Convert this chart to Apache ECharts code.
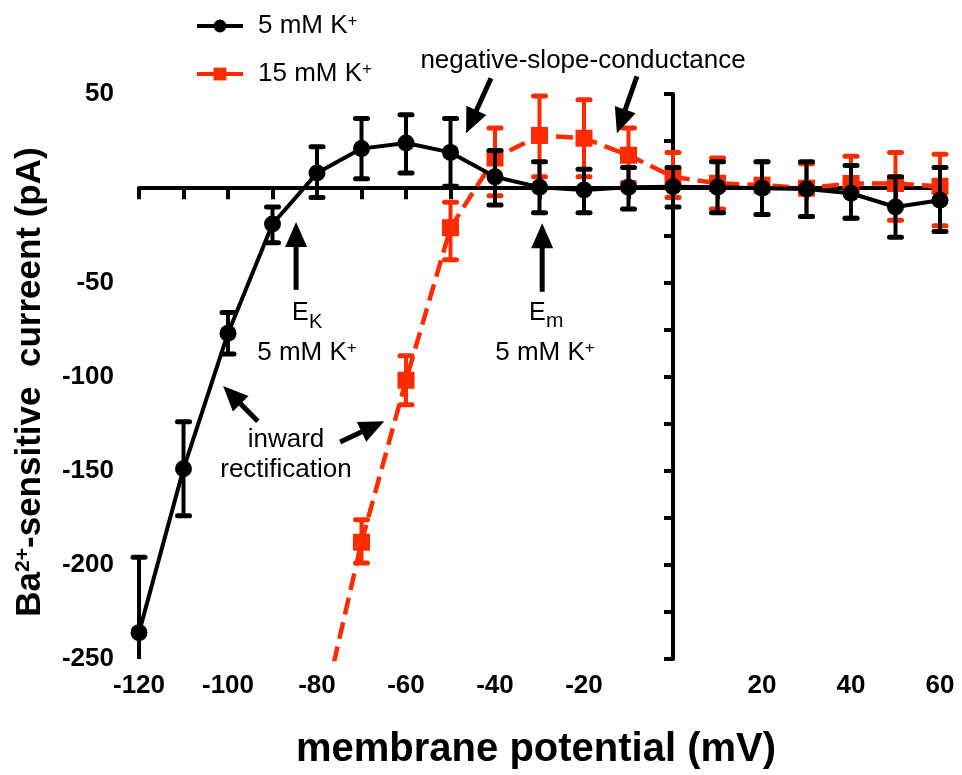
<!DOCTYPE html>
<html><head><meta charset="utf-8">
<script src="https://cdn.jsdelivr.net/npm/echarts@6/dist/echarts.min.js"></script>
<style>html,body{margin:0;padding:0;background:#fff}#c{width:962px;height:775px}</style>
</head><body><div id="c"></div>
<script>
// ---- data ----
const potentials5 = [-120,-110,-100,-90,-80,-70,-60,-50,-40,-30,-20,-10,0,10,20,30,40,50,60];
const current5    = [-236,-149,-77,-19,8,21,24,19,6,0.5,-1,0.5,0.7,0.5,0,-0.5,-2.7,-10,-6.4];
const upper5      = [-196,-124,-66,-10,22,37,39,37,20,14,10,11,11,14,14,14,12,6,11];
const lower5      = [-262,-174,-88,-29,-5,5,8,1,-9,-13,-13,-11,-10,-13,-14,-15,-16,-26,-23];
const potentials15 = [-80,-70,-60,-50,-40,-30,-20,-10,0,10,20,30,40,50,60];
const current15    = [-291,-188,-102,-21,16,28,26.5,17.5,6,2.6,1.6,0,2.5,2.5,1];
const upper15      = [null,-176,-89,-7.5,32,49,47,32,19,16,14,13,17,19,18];
const lower15      = [null,-199,-115,-38,-4,6,6,3,-5,-11,-14,-15,-16,-17,-20];
const seriesNames = ['5 mM K+', '15 mM K+'];
const xTickLabels = [-120,-100,-80,-60,-40,-20,20,40,60];
const yTickLabels = [50,-50,-100,-150,-200,-250];
// annotation arrows: [tail, tip] in data coordinates
const arrowList = [
  [[-40.9, 58.4], [-46.5, 29.2]],
  [[-8.1, 59.4], [-12.6, 29.2]],
  [[-84.7, -54], [-84.7, -18]],
  [[-29.4, -55], [-29.4, -18.6]],
  [[-93.3, -123.7], [-101.1, -105.1]],
  [[-74.8, -134.8], [-64.9, -123.7]]
];

const BLACK = '#000000', RED = '#ff2a00';
const FF = '"Liberation Sans", Arial, Helvetica, sans-serif';

function zip(xs, ys) { return xs.map((x, i) => [x, ys[i]]); }
function errData(xs, lo, hi) {
  const out = [];
  xs.forEach((x, i) => { if (lo[i] != null && hi[i] != null) out.push([x, lo[i], hi[i]]); });
  return out;
}
function errorBars(color, capHalf) {
  return function (params, api) {
    const x = api.value(0), lo = api.value(1), hi = api.value(2);
    const cs = params.coordSys;
    const top = cs.y, bottom = cs.y + cs.height;
    const pH = api.coord([x, hi]), pL = api.coord([x, lo]);
    const yH = Math.max(pH[1], top), yL = Math.min(pL[1], bottom);
    const ch = [{type: 'line', shape: {x1: pH[0], y1: yH, x2: pH[0], y2: yL}, style: {stroke: color, lineWidth: 4}}];
    if (pH[1] >= top - 0.5) ch.push({type: 'line', shape: {x1: pH[0] - capHalf, y1: pH[1], x2: pH[0] + capHalf, y2: pH[1]}, style: {stroke: color, lineWidth: 5, lineCap: 'round'}});
    if (pL[1] <= bottom + 0.5) ch.push({type: 'line', shape: {x1: pL[0] - capHalf, y1: pL[1], x2: pL[0] + capHalf, y2: pL[1]}, style: {stroke: color, lineWidth: 5, lineCap: 'round'}});
    return {type: 'group', children: ch};
  };
}

const chart = echarts.init(document.getElementById('c'), null, {renderer: 'canvas'});
const option = {
  animation: false,
  backgroundColor: '#fff',
  grid: {left: 139, right: 22, top: 94, bottom: 116, containLabel: false, outerBoundsMode: 'none'},
  legend: {
    orient: 'vertical', left: 190, top: 8, itemWidth: 46, itemHeight: 16, itemGap: 22,
    data: seriesNames,
    lineStyle: {type: 'solid', width: 4},
    formatter: n => n.replace('K+', 'K{sup|+}'),
    textStyle: {fontSize: 26, fontFamily: FF, color: '#000', padding: [0, 0, 0, 10],
      rich: {sup: {fontSize: 17, fontFamily: FF, color: '#000', verticalAlign: 'top'}}}
  },
  xAxis: [
    {type: 'value', min: -120, max: 60, interval: 10,
     axisLine: {show: true, onZero: true, onZeroAxisIndex: 0, lineStyle: {color: BLACK, width: 4}},
     axisTick: {show: true, length: 11, lineStyle: {color: BLACK, width: 4}},
     axisLabel: {show: false}, splitLine: {show: false}},
    {type: 'value', min: -120, max: 60, interval: 20, position: 'bottom',
     axisLine: {show: false, onZero: false}, axisTick: {show: false}, splitLine: {show: false},
     axisLabel: {show: true, margin: 14, color: '#000', fontSize: 26, fontWeight: 'bold', fontFamily: FF,
       formatter: v => xTickLabels.indexOf(v) >= 0 ? String(v) : ''}}
  ],
  yAxis: [
    {type: 'value', min: -250, max: 50, interval: 25,
     axisLine: {show: true, onZero: true, onZeroAxisIndex: 0, lineStyle: {color: BLACK, width: 4}},
     axisTick: {show: true, length: 9, lineStyle: {color: BLACK, width: 4}},
     axisLabel: {show: false}, splitLine: {show: false}},
    {type: 'value', min: -250, max: 50, interval: 50, position: 'left',
     axisLine: {show: false, onZero: false}, axisTick: {show: false}, splitLine: {show: false},
     axisLabel: {show: true, margin: 25, color: '#000', fontSize: 26, fontWeight: 'bold', fontFamily: FF,
       formatter: v => yTickLabels.indexOf(v) >= 0 ? String(v) : ''}}
  ],
  series: [
    {type: 'custom', name: 'err15', xAxisIndex: 0, yAxisIndex: 0, renderItem: errorBars(RED, 6),
     data: errData(potentials15, lower15, upper15), encode: {x: 0, y: [1, 2]}, silent: true, z: 2},
    {type: 'line', name: seriesNames[1], xAxisIndex: 0, yAxisIndex: 0, data: zip(potentials15, current15),
     symbol: 'rect', symbolSize: 17, clip: true, z: 3,
     lineStyle: {color: RED, width: 4.5, type: [17, 8]}, itemStyle: {color: RED}},
    {type: 'custom', name: 'err5', xAxisIndex: 0, yAxisIndex: 0, renderItem: errorBars(BLACK, 6),
     data: errData(potentials5, lower5, upper5), encode: {x: 0, y: [1, 2]}, silent: true, z: 4},
    {type: 'line', name: seriesNames[0], xAxisIndex: 0, yAxisIndex: 0, data: zip(potentials5, current5),
     symbol: 'circle', symbolSize: 17, clip: true, z: 5,
     lineStyle: {color: BLACK, width: 4}, itemStyle: {color: BLACK}}
  ]
};
chart.setOption(option);

// ---- annotations ----
const toPx = p => chart.convertToPixel({seriesIndex: 1}, p);
const graphics = [];
arrowList.forEach(([tail, tip]) => {
  const a = toPx(tail), b = toPx(tip);
  const dx = b[0] - a[0], dy = b[1] - a[1], len = Math.hypot(dx, dy);
  const ux = dx / len, uy = dy / len, nx = -uy, ny = ux;
  const L = 25, W = 11;
  const bx = b[0] - ux * L, by = b[1] - uy * L;
  graphics.push({type: 'line', shape: {x1: a[0], y1: a[1], x2: bx + ux * 2, y2: by + uy * 2},
    style: {stroke: '#000', lineWidth: 5}, z: 20});
  graphics.push({type: 'polygon', shape: {points: [[b[0], b[1]], [bx + nx * W, by + ny * W], [bx - nx * W, by - ny * W]]},
    style: {fill: '#000'}, z: 20});
});
function txt(x, y, text, font, align, extra) {
  return {type: 'text', x: x, y: y, z: 20,
    style: Object.assign({text: text, font: font, fill: '#000', textAlign: align || 'center', textVerticalAlign: 'middle'}, extra || {})};
}
const supRich = {sup: {fontSize: 17, fontFamily: FF, fill: '#000', verticalAlign: 'top'}};
graphics.push(txt(583, 61, 'negative-slope-conductance', '26px ' + FF));
graphics.push(txt(292, 313, 'E', '25px ' + FF, 'left'));
graphics.push(txt(309, 322, 'K', '20px ' + FF, 'left'));
graphics.push(txt(307, 353, '5 mM K{sup|+}', '26px ' + FF, 'center', {rich: supRich}));
graphics.push(txt(529, 313, 'E', '25px ' + FF, 'left'));
graphics.push(txt(546, 321, 'm', '21px ' + FF, 'left'));
graphics.push(txt(545, 353, '5 mM K{sup|+}', '26px ' + FF, 'center', {rich: supRich}));
graphics.push(txt(286, 440, 'inward', '26px ' + FF));
graphics.push(txt(286, 470, 'rectification', '26px ' + FF));
graphics.push(txt(536, 750, 'membrane potential (mV)', 'bold 40px ' + FF));
graphics.push({type: 'text', x: 30, y: 382, rotation: Math.PI / 2, z: 20,
  style: {text: 'Ba{sup|2+}-sensitive  curreent (pA)', font: 'bold 35px ' + FF, fill: '#000',
    textAlign: 'center', textVerticalAlign: 'middle',
    rich: {sup: {fontSize: 21, fontWeight: 'bold', fontFamily: FF, fill: '#000', verticalAlign: 'top'}}}});
chart.setOption({graphic: graphics});
</script>
</body></html>
